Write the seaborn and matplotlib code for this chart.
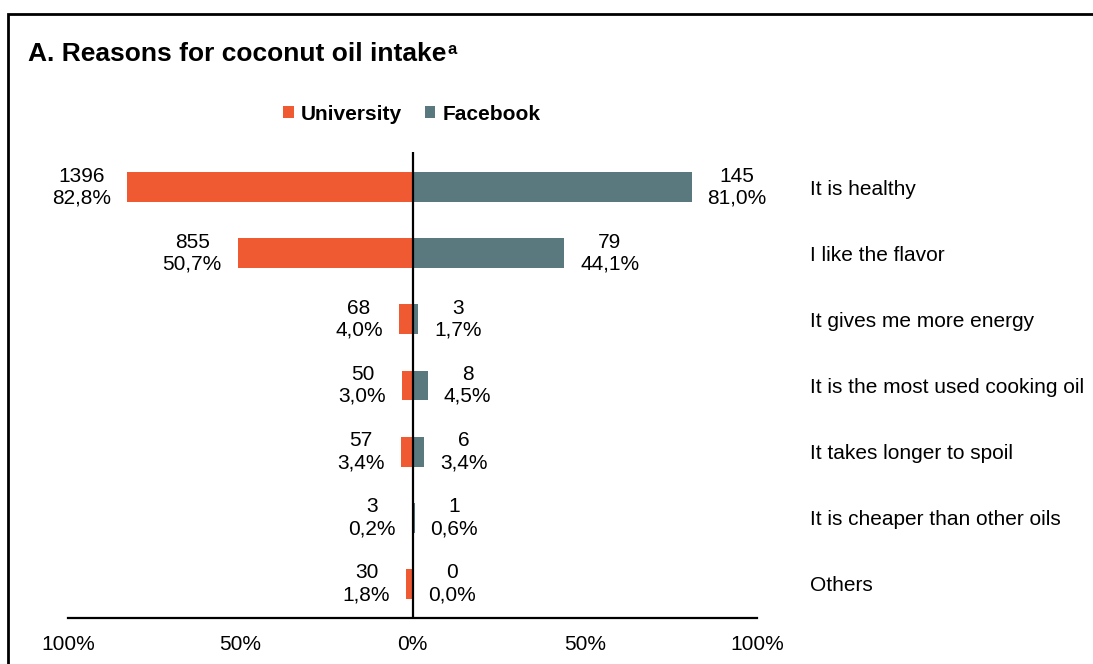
import matplotlib
matplotlib.use("Agg")
import matplotlib.pyplot as plt
from matplotlib.patches import Patch, Rectangle
import pandas as pd
import seaborn as sns

reasons = [
    "It is healthy",
    "I like the flavor",
    "It gives me more energy",
    "It is the most used cooking oil",
    "It takes longer to spoil",
    "It is cheaper than other oils",
    "Others",
]
univ_counts = [1396, 855, 68, 50, 57, 3, 30]
univ_pct = [82.8, 50.7, 4.0, 3.0, 3.4, 0.2, 1.8]
fb_counts = [145, 79, 3, 8, 6, 1, 0]
fb_pct = [81.0, 44.1, 1.7, 4.5, 3.4, 0.6, 0.0]
groups = ["University", "Facebook"]
xticks = [-100, -50, 0, 50, 100]

ORANGE = "#F05A32"
TEAL = "#5A797E"

sns.set_style("white")
plt.rcParams["font.family"] = ["Liberation Sans", "DejaVu Sans"]
plt.rcParams["text.color"] = "black"
plt.rcParams["axes.labelcolor"] = "black"
plt.rcParams["xtick.color"] = "black"
plt.rcParams["ytick.color"] = "black"

df = pd.DataFrame({
    "reason": reasons * 2,
    "source": [groups[0]] * len(reasons) + [groups[1]] * len(reasons),
    "signed": [-p for p in univ_pct] + fb_pct,
})

W, H = 1093, 664
fig = plt.figure(figsize=(W / 100, H / 100), dpi=100)
ax = fig.add_axes([68 / W, 1 - 618 / H, 689 / W, (618 - 152) / H])

sns.barplot(data=df, x="signed", y="reason", hue="source", order=reasons,
            hue_order=groups, palette=[ORANGE, TEAL], orient="h",
            dodge=False, width=0.45, saturation=1, errorbar=None,
            linewidth=0, legend=False, ax=ax)

ax.set_xlim(-100, 100)
ax.set_ylim(6.514, -0.529)
ax.set_xlabel("")
ax.set_ylabel("")

# centre line
ax.axvline(0, color="black", lw=1.6, zorder=3)

for side in ["top", "left", "right"]:
    ax.spines[side].set_visible(False)
ax.spines["bottom"].set_color("black")
ax.spines["bottom"].set_linewidth(1.6)

ax.set_xticks(xticks)
ax.set_xticklabels([f"{abs(t)}%" for t in xticks])
ax.tick_params(axis="x", direction="in", length=4.5, width=1.6,
               color="black", labelsize=15, pad=12.5, labelcolor="black")

ax.yaxis.tick_right()
ax.tick_params(axis="y", length=0, pad=38, labelsize=15, labelcolor="black")
for lab in ax.get_yticklabels():
    lab.set_ha("left")


def fmt(count, pct):
    return f"{count}\n{pct:.1f}%".replace(".", ",")


for i in range(len(reasons)):
    ax.annotate(fmt(univ_counts[i], univ_pct[i]), xy=(-univ_pct[i], i),
                xytext=(-11.5, 0), textcoords="offset points",
                ha="right", va="center", multialignment="center",
                fontsize=15, color="black")
    ax.annotate(fmt(fb_counts[i], fb_pct[i]), xy=(fb_pct[i], i),
                xytext=(11.5, 0), textcoords="offset points",
                ha="left", va="center", multialignment="center",
                fontsize=15, color="black")

# legend centred over the zero line
handles = [Patch(facecolor=ORANGE, edgecolor="none"),
           Patch(facecolor=TEAL, edgecolor="none")]
leg = fig.legend(handles, groups, loc="center",
                 bbox_to_anchor=(412 / W, 1 - 114 / H), ncol=2, frameon=False,
                 prop={"weight": "bold", "size": 15}, handlelength=0.5,
                 handleheight=0.5, handletextpad=0.35, columnspacing=1.1)
for t in leg.get_texts():
    t.set_color("black")

# title with superscript marker
title = fig.text(28 / W, 1 - 61 / H, "A. Reasons for coconut oil intake",
                 fontsize=19, fontweight="bold", va="baseline", ha="left",
                 color="black")
renderer = fig.canvas.get_renderer()
bb = title.get_window_extent(renderer)
fig.text(bb.x1 / W + 1 / W, 1 - 54 / H, "a", fontsize=12, fontweight="bold",
         va="baseline", ha="left", color="black")

# panel frame
fig.patches.append(Rectangle((8 / W, -0.05), 1.1, 1 - 14 / H + 0.05,
                             transform=fig.transFigure, fill=False,
                             edgecolor="black", linewidth=2.0, zorder=10))

fig.savefig("out.png", dpi=100)
